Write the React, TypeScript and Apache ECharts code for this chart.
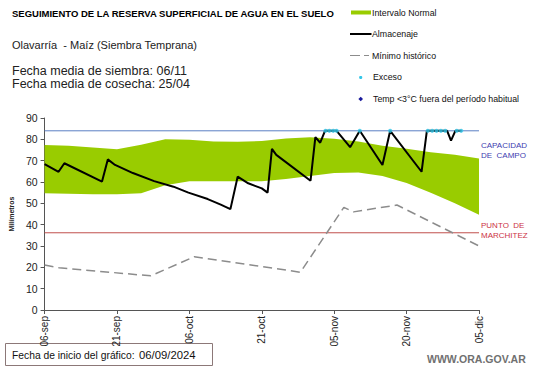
import React, { useEffect, useRef } from "react";
import * as echarts from "echarts";

// x values are days since 06/09/2024
const xTickLabels = ["06-sep", "21-sep", "06-oct", "21-oct", "05-nov", "20-nov", "05-dic"];

const bandDays = [0, 5, 10, 15, 20, 25, 30, 35, 40, 45, 50, 55, 60, 65, 70, 75, 80, 85, 90];
const bandLower = [54.7, 54.5, 54.2, 54.3, 54.7, 58.5, 60.3, 60.3, 60.3, 60.3, 61.4, 62.8, 64.2, 64.5, 62.8, 59.5, 55.0, 50.0, 44.7];
const bandUpper = [77.3, 77.0, 76.2, 75.4, 77.5, 80.0, 79.8, 79.0, 78.9, 79.2, 80.4, 81.0, 80.3, 79.0, 77.0, 75.6, 74.0, 72.8, 71.0];

const almDays = [0, 2.9, 4.1, 11.9, 13.1, 14.6, 18.3, 22.7, 26.7, 29.8, 33.8, 36.5, 38.5, 40.0, 42.2, 45, 46.2, 47.1, 48, 55.1, 56.1, 57.1, 58.1, 60.5, 63.3, 65.3, 70, 71.6, 78.1, 79.2, 83.4, 84.2, 85.1, 86.4];
const almValues = [68.4, 64.8, 68.8, 60.2, 70.6, 68.0, 64.2, 60.4, 57.8, 55.0, 52.0, 49.4, 47.3, 62.5, 59.4, 57.0, 55.0, 75.5, 72.7, 60.6, 81.0, 78.4, 84, 84, 76.3, 84, 68.0, 84, 64.8, 84, 84, 79.4, 84, 84];

const minDays = [0, 3, 22, 31, 53, 62, 64, 73, 90];
const minValues = [21.1, 19.8, 16.0, 25.0, 17.7, 48.1, 46.0, 49.2, 30.0];

const excesoDays = [58.2, 59.0, 59.8, 60.5, 65.3, 71.6, 79.4, 80.3, 81.2, 82.1, 83.0, 85.4, 86.3];
const excesoValues = [84, 84, 84, 84, 84, 84, 84, 84, 84, 84, 84, 84, 84];

const refDays = [0, 90];
const capacidadCampo = 84;
const puntoMarchitez = 36.2;

const FONT = "'Liberation Sans', Arial, sans-serif";

export default function App() {
  const ref = useRef<HTMLDivElement>(null);
  useEffect(() => {
    if (!ref.current) return;
    const chart = echarts.init(ref.current, null, { renderer: "svg" });
    const pair = (xs: number[], ys: number[]) => xs.map((x, i) => [x, ys[i]]);
    const txt = (x: number, y: number, text: string, size: number, extra: any = {}) => ({
      type: "text",
      x,
      y,
      style: {
        text,
        fontSize: size,
        fontFamily: extra.fontFamily || FONT,
        fill: extra.fill || "#111",
        fontWeight: extra.fontWeight || "normal",
        verticalAlign: "middle",
        align: "left",
      },
    });
    chart.setOption({
      animation: false,
      backgroundColor: "#fff",
      grid: { left: 34, right: 62, top: 118, bottom: 58 },
      xAxis: {
        type: "value",
        min: 0,
        max: 90,
        interval: 15,
        splitLine: { show: false },
        axisLine: { show: true, lineStyle: { color: "#555", width: 1 } },
        axisTick: { show: true, length: 4, lineStyle: { color: "#555" } },
        axisLabel: {
          rotate: 90,
          fontSize: 10,
          fontFamily: FONT,
          color: "#222",
          margin: 6,
          formatter: (v: number) => xTickLabels[Math.round(v / 15)] ?? "",
        },
      },
      yAxis: {
        type: "value",
        min: 0,
        max: 90,
        interval: 10,
        name: "Milímetros",
        nameLocation: "middle",
        nameGap: 28,
        nameRotate: 90,
        nameTextStyle: { fontSize: 7, fontWeight: "bold", fontFamily: FONT, color: "#222" },
        splitLine: { show: false },
        axisLine: { show: true, lineStyle: { color: "#555", width: 1 } },
        axisTick: { show: true, length: 4, lineStyle: { color: "#555" } },
        axisLabel: { fontSize: 10.5, fontFamily: FONT, color: "#222", margin: 7 },
      },
      series: [
        {
          name: "Intervalo Normal",
          type: "custom",
          data: [[0, 0]],
          silent: true,
          z: 1,
          renderItem: (params: any, api: any) => {
            const up = bandDays.map((d, i) => api.coord([d, bandUpper[i]]));
            const lo = bandDays.map((d, i) => api.coord([d, bandLower[i]])).reverse();
            return {
              type: "polygon",
              shape: { points: up.concat(lo) },
              style: { fill: "#99cc00" },
            };
          },
        },
        {
          name: "Capacidad de campo",
          type: "line",
          data: pair(refDays, refDays.map(() => capacidadCampo)),
          symbol: "none",
          silent: true,
          lineStyle: { color: "#5b7fc4", width: 1 },
          z: 2,
        },
        {
          name: "Punto de marchitez",
          type: "line",
          data: pair(refDays, refDays.map(() => puntoMarchitez)),
          symbol: "none",
          silent: true,
          lineStyle: { color: "#c0504d", width: 1 },
          z: 2,
        },
        {
          name: "Mínimo histórico",
          type: "line",
          data: pair(minDays, minValues),
          symbol: "none",
          lineStyle: { color: "#8c8c8c", width: 1.5, type: [9, 5] },
          z: 3,
        },
        {
          name: "Almacenaje",
          type: "line",
          data: pair(almDays, almValues),
          symbol: "none",
          lineStyle: { color: "#000", width: 2 },
          z: 4,
        },
        {
          name: "Exceso",
          type: "scatter",
          data: pair(excesoDays, excesoValues),
          symbol: "circle",
          symbolSize: 4.2,
          itemStyle: { color: "#33c6e8" },
          z: 5,
        },
      ],
      graphic: [
        txt(12, 13, "SEGUIMIENTO DE LA RESERVA SUPERFICIAL DE AGUA EN EL SUELO", 9.5, { fontWeight: "bold", fill: "#000" }),
        txt(12, 45, "Olavarría  - Maíz (Siembra Temprana)", 11, { fill: "#222" }),
        txt(12, 71, "Fecha media de siembra: 06/11", 12.5, { fill: "#222" }),
        txt(12, 83.5, "Fecha media de cosecha: 25/04", 12.5, { fill: "#222" }),
        // legend
        { type: "rect", shape: { x: 351, y: 10.5, width: 20, height: 4 }, style: { fill: "#99cc00" } },
        txt(372, 12.5, "Intervalo Normal", 8.8),
        { type: "line", shape: { x1: 350, y1: 34, x2: 371.5, y2: 34 }, style: { stroke: "#000", lineWidth: 2 } },
        txt(372, 34, "Almacenaje", 8.8),
        { type: "line", shape: { x1: 350, y1: 55.5, x2: 369, y2: 55.5 }, style: { stroke: "#8c8c8c", lineWidth: 1.2, lineDash: [10, 4] } },
        txt(372, 55.5, "Mínimo histórico", 8.8),
        { type: "circle", shape: { cx: 360.7, cy: 77.5, r: 1.6 }, style: { fill: "#33c6e8" } },
        txt(373, 77, "Exceso", 8.8),
        { type: "polygon", shape: { points: [[360.7, 96.8], [363, 99], [360.7, 101.2], [358.4, 99]] }, style: { fill: "#1a1a9c" } },
        txt(373, 99, "Temp <3°C fuera del período habitual", 8.8),
        // right labels
        txt(481, 145, "CAPACIDAD", 8, { fill: "#4040b0" }),
        txt(481, 155, "DE  CAMPO", 8, { fill: "#4040b0" }),
        txt(481, 225.5, "PUNTO  DE", 8, { fill: "#cc3344" }),
        txt(481, 235, "MARCHITEZ", 8, { fill: "#cc3344" }),
        // bottom box
        { type: "rect", shape: { x: 5.5, y: 343.5, width: 207, height: 22 }, style: { fill: "#fff", stroke: "#8c7878", lineWidth: 1 } },
        txt(12, 355, "Fecha de inicio del gráfico:", 10.3, { fill: "#111" }),
        txt(139, 355, "06/09/2024", 11.3, { fill: "#111" }),
        txt(427, 359, "WWW.ORA.GOV.AR", 10.5, { fontWeight: "bold", fill: "#707070" }),
      ],
    });
    return () => chart.dispose();
  }, []);
  return <div ref={ref} style={{ position: "fixed", left: 0, top: 0, width: 541, height: 368 }} />;
}
